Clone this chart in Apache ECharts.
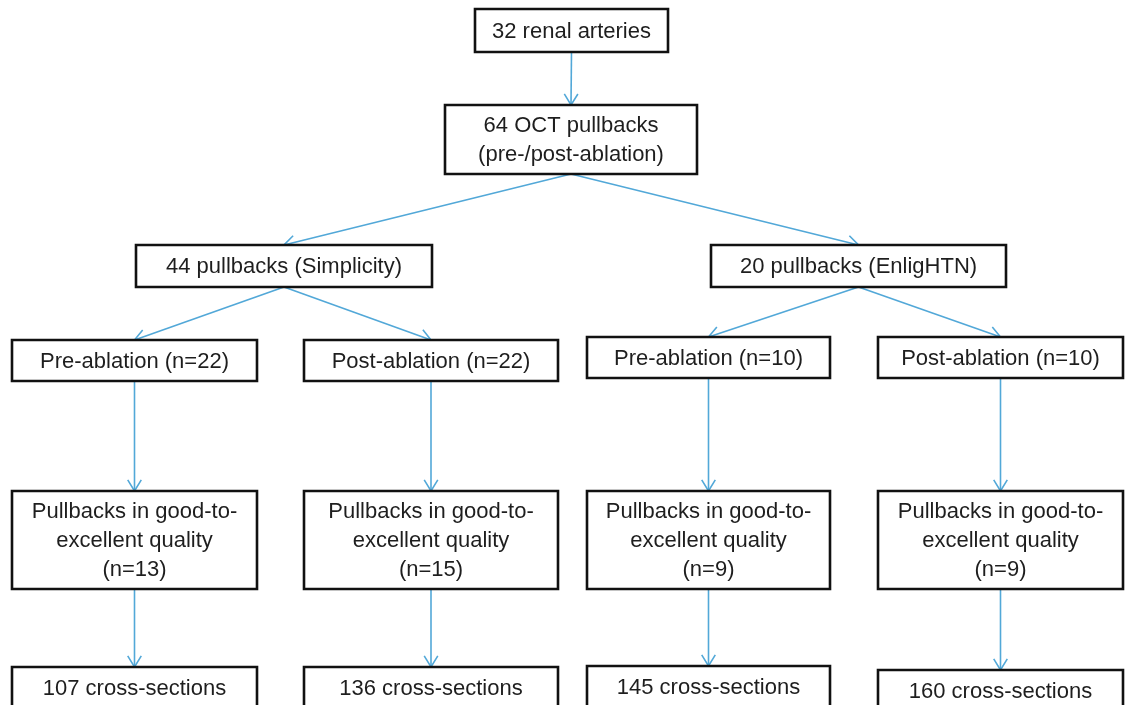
<!DOCTYPE html>
<html>
<head>
<meta charset="utf-8">
<script src="https://cdn.jsdelivr.net/npm/echarts@6/dist/echarts.min.js"></script>
<style>
html,body{margin:0;padding:0;background:#ffffff;}
#chart{width:1126px;height:705px;}
</style>
</head>
<body>
<div id="chart"></div>
<script>
// Flowchart nodes (labels) and their bounds in the chart's data space (x: 0-1126, y: 0-705 downward)
const boxLabels = [
  '32 renal arteries',
  '64 OCT pullbacks\n(pre-/post-ablation)',
  '44 pullbacks (Simplicity)',
  '20 pullbacks (EnligHTN)',
  'Pre-ablation (n=22)',
  'Post-ablation (n=22)',
  'Pre-ablation (n=10)',
  'Post-ablation (n=10)',
  'Pullbacks in good-to-\nexcellent quality\n(n=13)',
  'Pullbacks in good-to-\nexcellent quality\n(n=15)',
  'Pullbacks in good-to-\nexcellent quality\n(n=9)',
  'Pullbacks in good-to-\nexcellent quality\n(n=9)',
  '107 cross-sections',
  '136 cross-sections',
  '145 cross-sections',
  '160 cross-sections'
];
const boxLeft   = [475, 445, 136, 711,  12, 304, 587, 878,  12, 304, 587, 878,  12, 304, 587, 878];
const boxRight  = [668, 697, 432, 1006, 257, 558, 830, 1123, 257, 558, 830, 1123, 257, 558, 830, 1123];
const boxTop    = [  9, 105, 245, 245, 340, 340, 337, 337, 491, 491, 491, 491, 667, 667, 666, 670];
const boxBottom = [ 52, 174, 287, 287, 381, 381, 378, 378, 589, 589, 589, 589, 709, 709, 708, 712];
// Arrows: [from, to]
const links = [[0,1],[1,2],[1,3],[2,4],[2,5],[3,6],[3,7],[4,8],[5,9],[6,10],[7,11],[8,12],[9,13],[10,14],[11,15]];

const boxData = boxLabels.map((t, i) => [boxLeft[i], boxTop[i], boxRight[i], boxBottom[i], t]);
const linkData = links.map(([a, b]) => [
  (boxLeft[a] + boxRight[a]) / 2, boxBottom[a],
  (boxLeft[b] + boxRight[b]) / 2, boxTop[b]
]);

const chart = echarts.init(document.getElementById('chart'), null, {renderer: 'canvas'});
const FONT = '22px "Liberation Sans", Arial, sans-serif';
const ARROW = '#52a8d8';

chart.setOption({
  backgroundColor: '#ffffff',
  animation: false,
  grid: {left: 0, right: 0, top: 0, bottom: 0},
  xAxis: {type: 'value', min: 0, max: 1126, show: false},
  yAxis: {type: 'value', min: 0, max: 705, inverse: true, show: false},
  series: [
    {
      type: 'custom',
      clip: false,
      data: linkData,
      z: 1,
      renderItem: function (params, api) {
        const p1 = api.coord([api.value(0), api.value(1)]);
        const p2 = api.coord([api.value(2), api.value(3)]);
        const ang = Math.atan2(p2[1] - p1[1], p2[0] - p1[0]);
        const L = 13, spread = 0.55;
        const a1 = [p2[0] - L * Math.cos(ang - spread), p2[1] - L * Math.sin(ang - spread)];
        const a2 = [p2[0] - L * Math.cos(ang + spread), p2[1] - L * Math.sin(ang + spread)];
        return {
          type: 'group',
          children: [
            {type: 'line', shape: {x1: p1[0], y1: p1[1], x2: p2[0], y2: p2[1]},
             style: {stroke: ARROW, lineWidth: 1.6}},
            {type: 'polyline', shape: {points: [a1, p2, a2]},
             style: {stroke: ARROW, lineWidth: 1.6, fill: null}}
          ]
        };
      }
    },
    {
      type: 'custom',
      clip: false,
      data: boxData,
      z: 2,
      renderItem: function (params, api) {
        const d = boxData[params.dataIndex];
        const tl = api.coord([d[0], d[1]]);
        const br = api.coord([d[2], d[3]]);
        return {
          type: 'group',
          children: [
            {type: 'rect', shape: {x: tl[0], y: tl[1], width: br[0] - tl[0], height: br[1] - tl[1]},
             style: {fill: '#ffffff', stroke: '#111111', lineWidth: 2.6}},
            {type: 'text',
             style: {text: d[4], x: (tl[0] + br[0]) / 2, y: (tl[1] + br[1]) / 2 + 1,
                     align: 'center', verticalAlign: 'middle', font: FONT,
                     lineHeight: 29, fill: '#1e1e1e'}}
          ]
        };
      }
    }
  ]
});
</script>
</body>
</html>
